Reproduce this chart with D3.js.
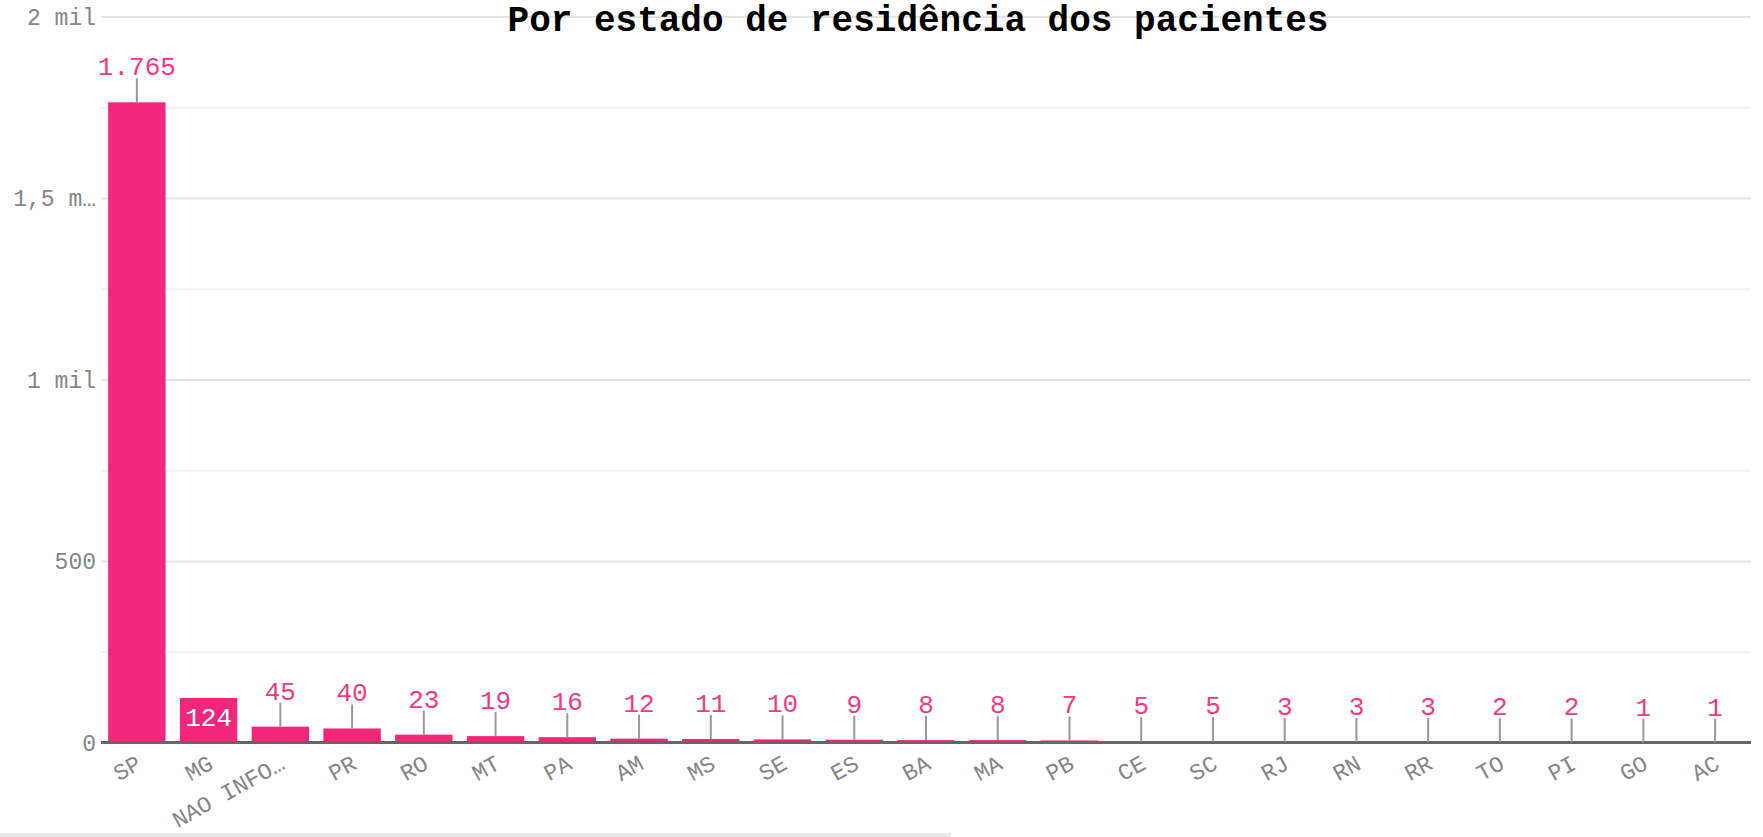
<!DOCTYPE html>
<html>
<head>
<meta charset="utf-8">
<script src="https://cdn.jsdelivr.net/npm/d3@7"></script>
<style>
  html, body { margin: 0; padding: 0; background: #fff; }
  svg { display: block; }
  text { font-family: "Courier New", "Liberation Mono", monospace; }
</style>
</head>
<body>
<svg id="chart" width="1763" height="837"></svg>
<script>
const title = "Por estado de residência dos pacientes";
const categories = ["SP","MG","NAO INFORMADO","PR","RO","MT","PA","AM","MS","SE","ES","BA","MA","PB","CE","SC","RJ","RN","RR","TO","PI","GO","AC"];
const values = [1765,124,45,40,23,19,16,12,11,10,9,8,8,7,5,5,3,3,3,2,2,1,1];
const yTicks = [0, 500, 1000, 1500, 2000];
const yTickLabels = ["0", "500", "1 mil", "1,5 m…", "2 mil"];
const yMinorTicks = [250, 750, 1250, 1750];

const W = 1763, H = 837;
const margin = {left: 101, right: 12, top: 17, bottom: 94};
const svg = d3.select("#chart");

const x = d3.scaleBand().domain(categories).range([margin.left, W - margin.right]).paddingInner(0.2).paddingOuter(0.1);
const y = d3.scaleLinear().domain([0, 2000]).range([H - margin.bottom, margin.top]);

const loc = d3.formatLocale({decimal: ",", thousands: ".", grouping: [3], currency: ["", ""]});
const fmt = loc.format(",d");

// minor gridlines
svg.append("g").selectAll("line").data(yMinorTicks).join("line")
  .attr("x1", margin.left).attr("x2", W - margin.right)
  .attr("y1", d => y(d)).attr("y2", d => y(d))
  .attr("stroke", "#f1f1f1").attr("stroke-width", 2);

// major gridlines
svg.append("g").selectAll("line").data(yTicks.filter(d => d > 0)).join("line")
  .attr("x1", margin.left).attr("x2", W - margin.right)
  .attr("y1", d => y(d)).attr("y2", d => y(d))
  .attr("stroke", "#e4e4e4").attr("stroke-width", 2);

// y axis labels
const yAxis = d3.axisLeft(y).tickValues(yTicks).tickFormat((d, i) => yTickLabels[i]).tickSize(0).tickPadding(5);
const gy = svg.append("g").attr("transform", `translate(${margin.left},0)`).call(yAxis);
gy.select(".domain").remove();
gy.selectAll("text").attr("font-family", "'Courier New','Liberation Mono',monospace")
  .attr("font-size", 23).attr("fill", "#858585");

// bars
svg.append("g").selectAll("rect").data(values).join("rect")
  .attr("x", (d, i) => x(categories[i]))
  .attr("width", x.bandwidth())
  .attr("y", d => y(d))
  .attr("height", d => y(0) - y(d))
  .attr("fill", "#f0277a");

// baseline
svg.append("line")
  .attr("x1", margin.left).attr("x2", W - margin.right)
  .attr("y1", y(0) - 0.5).attr("y2", y(0) - 0.5)
  .attr("stroke", "#666").attr("stroke-width", 3);

// value labels
const labelFont = 26;
const inside = d => (y(0) - y(d)) > 32 && fmt(d).length * 0.6 * labelFont < x.bandwidth() - 4;
const lg = svg.append("g");
values.forEach((v, i) => {
  const cx = x(categories[i]) + x.bandwidth() / 2;
  const top = y(v);
  if (inside(v)) {
    lg.append("text").attr("x", cx).attr("y", top + 28)
      .attr("text-anchor", "middle").attr("font-size", labelFont).attr("fill", "#fff")
      .text(fmt(v));
  } else {
    lg.append("line").attr("x1", cx).attr("x2", cx)
      .attr("y1", top).attr("y2", top - 24)
      .attr("stroke", "#999").attr("stroke-width", 2);
    lg.append("text").attr("x", cx).attr("y", top - 27)
      .attr("text-anchor", "middle").attr("font-size", labelFont).attr("fill", "#f23a82")
      .text(fmt(v));
  }
});

// x axis labels
const trunc = s => s.length > 9 ? s.slice(0, 8) + "…" : s;
const xAxis = d3.axisBottom(x).tickSize(0).tickFormat(trunc);
const gx = svg.append("g").attr("transform", `translate(0,${y(0)})`).call(xAxis);
gx.select(".domain").remove();
gx.selectAll("text")
  .attr("font-family", "'Courier New','Liberation Mono',monospace")
  .attr("font-size", 23).attr("fill", "#858585")
  .attr("text-anchor", "end")
  .attr("dy", null)
  .attr("y", null)
  .attr("transform", "translate(6,25) rotate(-29)");

// title
svg.append("text").attr("x", (margin.left + W - margin.right) / 2 - 8).attr("y", 31)
  .attr("text-anchor", "middle").attr("font-size", 36).attr("font-weight", "bold")
  .attr("fill", "#000").text(title);

// scrollbar artifact
svg.append("rect").attr("x", 0).attr("y", 833).attr("width", 951).attr("height", 4).attr("fill", "#e8e8e8");
</script>
</body>
</html>
